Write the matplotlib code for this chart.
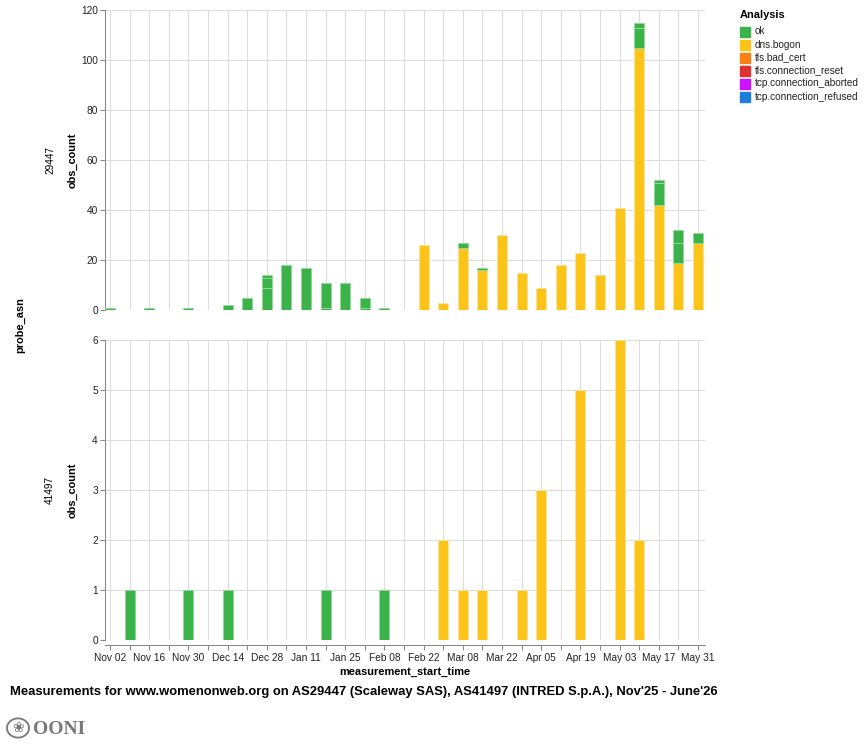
import numpy as np
import pandas as pd
import matplotlib
matplotlib.use("Agg")
import matplotlib.pyplot as plt
import matplotlib.dates as mdates
from matplotlib.patches import Rectangle, Circle

plt.rcParams['font.family'] = ['Liberation Sans', 'DejaVu Sans']

# weekly buckets (week starting Sunday)
weeks = ["2025-11-02", "2025-11-09", "2025-11-16", "2025-11-23", "2025-11-30",
         "2025-12-07", "2025-12-14", "2025-12-21", "2025-12-28", "2026-01-04",
         "2026-01-11", "2026-01-18", "2026-01-25", "2026-02-01", "2026-02-08",
         "2026-02-15", "2026-02-22", "2026-03-01", "2026-03-08", "2026-03-15",
         "2026-03-22", "2026-03-29", "2026-04-05", "2026-04-12", "2026-04-19",
         "2026-04-26", "2026-05-03", "2026-05-10", "2026-05-17", "2026-05-24",
         "2026-05-31"]

# AS29447 - dns.bogon, then "ok" rows stacked on top (several rows per week)
as29447_bogon = [0, 0, 0, 0, 0, 0, 0, 0, 0, 0, 0, 0, 0, 0, 0, 0,
                 26, 3, 25, 16, 30, 15, 9, 18, 23, 14, 41, 105, 42, 19, 27]
as29447_ok_a = [1, 0, 1, 0, 1, 0, 2, 5, 9, 18, 17, 1, 11, 1, 1, 0,
                0, 0, 2, 1, 0, 0, 0, 0, 0, 0, 0, 8, 9, 8, 4]
as29447_ok_b = [0, 0, 0, 0, 0, 0, 0, 0, 4, 0, 0, 10, 0, 4, 0, 0,
                0, 0, 0, 0, 0, 0, 0, 0, 0, 0, 0, 2, 1, 5, 0]
as29447_ok_c = [0, 0, 0, 0, 0, 0, 0, 0, 1, 0, 0, 0, 0, 0, 0, 0,
                0, 0, 0, 0, 0, 0, 0, 0, 0, 0, 0, 0, 0, 0, 0]

# AS41497
as41497_bogon = [0, 0, 0, 0, 0, 0, 0, 0, 0, 0, 0, 0, 0, 0, 0, 0,
                 0, 2, 1, 1, 0, 1, 3, 0, 5, 0, 6, 2, 0, 0, 0]
as41497_ok = [0, 1, 0, 0, 1, 0, 1, 0, 0, 0, 0, 1, 0, 0, 1, 0,
              0, 0, 0, 0, 0, 0, 0, 0, 0, 0, 0, 0, 0, 0, 0]

categories = ["ok", "dns.bogon", "tls.bad_cert", "tls.connection_reset",
              "tcp.connection_aborted", "tcp.connection_refused"]
colors = ["#3bb34a", "#fcc419", "#fd7e14", "#e03131", "#cc11ff", "#1c7ed6"]
edge_ok = "#93d89b"
edge_bogon = "#fde39a"

x = mdates.date2num(pd.to_datetime(weeks))
bw = 3.6  # days

fig = plt.figure(figsize=(8.64, 7.55), dpi=100)
W, H = 864, 755
ax1 = fig.add_axes([105 / W, 1 - 310 / H, 600 / W, 300 / H])
ax2 = fig.add_axes([105 / W, 1 - 640 / H, 600 / W, 300 / H])


def stack(ax, x, parts):
    bottom = np.zeros(len(x))
    for vals, col, ec in parts:
        vals = np.array(vals, dtype=float)
        m = vals > 0
        ax.bar(x[m], vals[m], width=bw, bottom=bottom[m], color=col,
               edgecolor=ec, linewidth=0.7, zorder=3)
        bottom += vals


stack(ax1, x, [(as29447_bogon, colors[1], edge_bogon),
               (as29447_ok_a, colors[0], edge_ok),
               (as29447_ok_b, colors[0], edge_ok),
               (as29447_ok_c, colors[0], edge_ok)])
stack(ax2, x, [(as41497_bogon, colors[1], edge_bogon),
               (as41497_ok, colors[0], edge_ok)])

x0 = mdates.date2num(pd.Timestamp("2025-11-02"))
x1 = mdates.date2num(pd.Timestamp("2026-05-31"))
for ax, top, step in [(ax1, 120, 20), (ax2, 6, 1)]:
    ax.set_xlim(x0 - 1.8, x1 + 2.5)
    ax.set_ylim(0, top)
    ax.set_yticks(np.arange(0, top + 1, step))
    ax.set_xticks(x[::2])
    ax.set_xticks(x[1::2], minor=True)
    ax.grid(True, which='both', color='#dddddd', linewidth=0.75, zorder=0)
    ax.set_axisbelow(True)
    for s in ['top', 'right']:
        ax.spines[s].set_visible(False)
    ax.spines['left'].set_color('#888888')
    ax.spines['left'].set_linewidth(0.75)
    ax.tick_params(axis='y', length=3.6, width=0.75, color='#888888',
                   labelsize=7.3, labelcolor='#222222', pad=1.5)
    ax.tick_params(axis='x', which='both', length=3.6, width=0.75,
                   color='#888888', labelsize=7.3, labelcolor='#222222', pad=2)

ax1.spines['bottom'].set_visible(False)
ax1.tick_params(axis='x', which='both', length=0, labelbottom=False)
ax2.spines['bottom'].set_position(('outward', 3.6))
ax2.spines['bottom'].set_color('#888888')
ax2.spines['bottom'].set_linewidth(0.75)
ax2.xaxis.set_major_formatter(mdates.DateFormatter('%b %d'))

# axis titles
fig.text(73 / W, 1 - 160 / H, "obs_count", rotation=90, ha='center', va='center',
         fontsize=7.9, fontweight='bold')
fig.text(73 / W, 1 - 490 / H, "obs_count", rotation=90, ha='center', va='center',
         fontsize=7.9, fontweight='bold')
fig.text(50 / W, 1 - 160 / H, "29447", rotation=90, ha='center', va='center',
         fontsize=7.2)
fig.text(50 / W, 1 - 490 / H, "41497", rotation=90, ha='center', va='center',
         fontsize=7.2)
fig.text(20 / W, 1 - 325 / H, "probe_asn", rotation=90, ha='center', va='center',
         fontsize=7.9, fontweight='bold')
fig.text(405 / W, 1 - 672 / H, "measurement_start_time", ha='center', va='center',
         fontsize=7.9, fontweight='bold')

fig.text(10 / W, 1 - 692 / H,
         "Measurements for www.womenonweb.org on AS29447 (Scaleway SAS), "
         "AS41497 (INTRED S.p.A.), Nov'25 - June'26",
         ha='left', va='center', fontsize=9.4, fontweight='bold')

# legend
fig.text(740 / W, 1 - 15 / H, "Analysis", ha='left', va='center',
         fontsize=7.9, fontweight='bold')
for i, (lab, col) in enumerate(zip(categories, colors)):
    yc = 31.5 + 13 * i
    fig.add_artist(Rectangle((740 / W, 1 - (yc + 5) / H), 10 / W, 10 / H,
                             transform=fig.transFigure, color=col))
    fig.text(755 / W, 1 - yc / H, lab, ha='left', va='center', fontsize=7.2,
             color='#222222')

# OONI mark
fig.add_artist(Circle((18 / W, 1 - 728 / H), 11 / W, transform=fig.transFigure,
                      fill=False, edgecolor='#777777', linewidth=1.3))
fig.text(18 / W, 1 - 728 / H, "\u2740", ha='center', va='center', fontsize=10,
         color='#777777', family='DejaVu Sans')
fig.text(33 / W, 1 - 729 / H, "OONI", ha='left', va='center', fontsize=14,
         fontweight='bold', color='#777777', family='Liberation Serif')

fig.savefig("out.png", dpi=100)
